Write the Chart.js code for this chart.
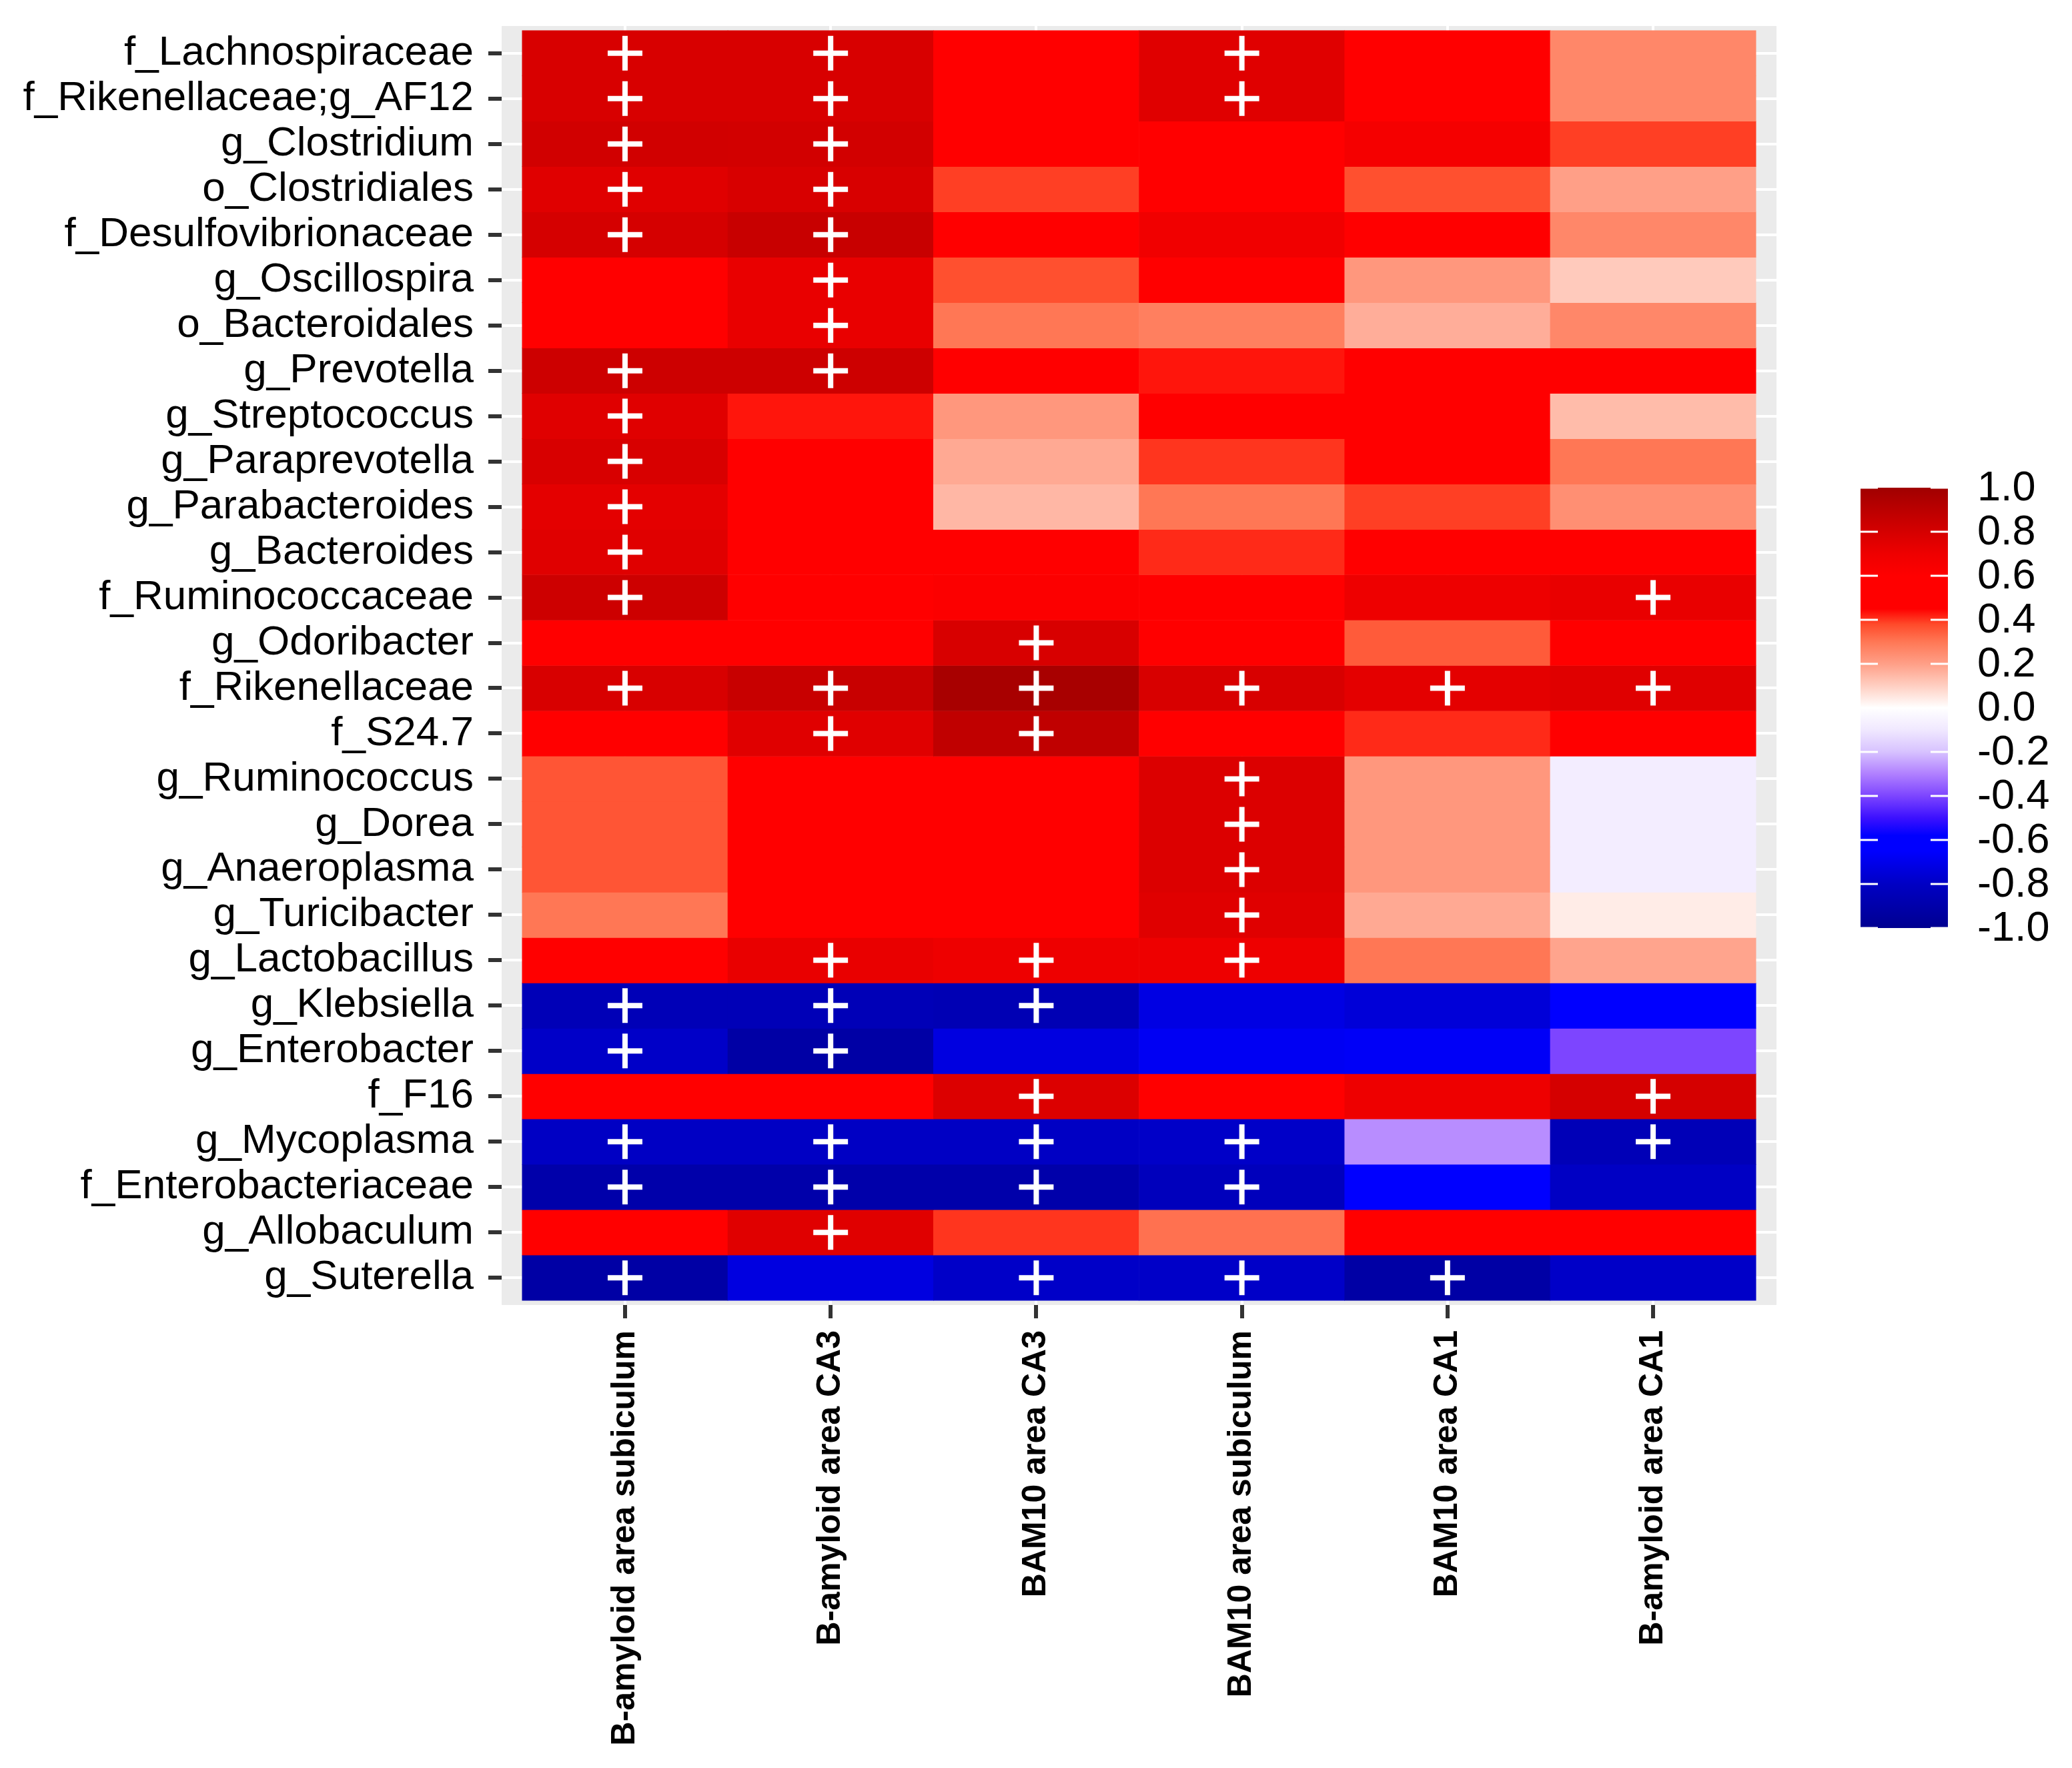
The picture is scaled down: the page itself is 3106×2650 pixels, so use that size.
<!DOCTYPE html>
<html>
<head>
<meta charset="utf-8">
<script src="https://cdn.jsdelivr.net/npm/chart.js@4.4.0/dist/chart.umd.min.js"></script>
<style>
  html, body { margin: 0; padding: 0; background: #fff; }
</style>
</head>
<body>
<canvas id="heat" width="3106" height="2650"></canvas>
<script>
// rows of the heatmap, top to bottom
const taxa = [
  'f_Lachnospiraceae', 'f_Rikenellaceae;g_AF12', 'g_Clostridium', 'o_Clostridiales',
  'f_Desulfovibrionaceae', 'g_Oscillospira', 'o_Bacteroidales', 'g_Prevotella',
  'g_Streptococcus', 'g_Paraprevotella', 'g_Parabacteroides', 'g_Bacteroides',
  'f_Ruminococcaceae', 'g_Odoribacter', 'f_Rikenellaceae', 'f_S24.7',
  'g_Ruminococcus', 'g_Dorea', 'g_Anaeroplasma', 'g_Turicibacter',
  'g_Lactobacillus', 'g_Klebsiella', 'g_Enterobacter', 'f_F16',
  'g_Mycoplasma', 'f_Enterobacteriaceae', 'g_Allobaculum', 'g_Suterella'
];

// columns, left to right
const regions = [
  'B-amyloid area subiculum', 'B-amyloid area CA3', 'BAM10 area CA3',
  'BAM10 area subiculum', 'BAM10 area CA1', 'B-amyloid area CA1'
];

// correlation per taxon (one row per taxon, one value per region)
const corr = [
  [0.785, 0.785, 0.55, 0.755, 0.55, 0.26],
  [0.785, 0.785, 0.55, 0.755, 0.55, 0.26],
  [0.815, 0.81, 0.55, 0.55, 0.66, 0.39],
  [0.755, 0.785, 0.39, 0.55, 0.37, 0.20],
  [0.80, 0.85, 0.55, 0.68, 0.55, 0.26],
  [0.55, 0.72, 0.37, 0.55, 0.22, 0.11],
  [0.55, 0.72, 0.30, 0.28, 0.17, 0.26],
  [0.83, 0.83, 0.55, 0.43, 0.55, 0.55],
  [0.755, 0.43, 0.22, 0.55, 0.55, 0.14],
  [0.785, 0.55, 0.18, 0.40, 0.55, 0.30],
  [0.74, 0.55, 0.15, 0.30, 0.39, 0.24],
  [0.755, 0.55, 0.55, 0.41, 0.55, 0.55],
  [0.83, 0.55, 0.62, 0.55, 0.70, 0.72],
  [0.55, 0.55, 0.785, 0.55, 0.35, 0.55],
  [0.785, 0.85, 0.97, 0.785, 0.74, 0.755],
  [0.55, 0.755, 0.88, 0.55, 0.41, 0.55],
  [0.36, 0.55, 0.55, 0.77, 0.22, -0.08],
  [0.36, 0.55, 0.55, 0.77, 0.22, -0.08],
  [0.36, 0.55, 0.55, 0.77, 0.22, -0.08],
  [0.30, 0.55, 0.55, 0.755, 0.18, 0.04],
  [0.55, 0.72, 0.70, 0.70, 0.30, 0.19],
  [-0.85, -0.85, -0.86, -0.72, -0.75, -0.62],
  [-0.79, -0.92, -0.73, -0.68, -0.67, -0.40],
  [0.55, 0.55, 0.77, 0.55, 0.70, 0.80],
  [-0.80, -0.80, -0.80, -0.79, -0.28, -0.85],
  [-0.90, -0.90, -0.90, -0.83, -0.62, -0.80],
  [0.55, 0.755, 0.40, 0.31, 0.55, 0.55],
  [-0.92, -0.73, -0.79, -0.79, -0.92, -0.79]
];

// significant cells (+): region indexes per taxon
const signif = [
  [0, 1, 3], [0, 1, 3], [0, 1], [0, 1], [0, 1], [1], [1], [0, 1],
  [0], [0], [0], [0], [0, 5], [2], [0, 1, 2, 3, 4, 5], [1, 2],
  [3], [3], [3], [3], [1, 2, 3], [0, 1, 2], [0, 1], [2, 5],
  [0, 1, 2, 3, 5], [0, 1, 2, 3], [1], [0, 2, 3, 4]
];

const legendTicks = [1.0, 0.8, 0.6, 0.4, 0.2, 0.0, -0.2, -0.4, -0.6, -0.8, -1.0];

// colour scale, value -> colour
const colourStops = [
  [-1.0, '#000090'], [-0.8, '#0000c4'], [-0.65, '#0000ff'], [-0.58, '#0000ff'],
  [-0.5, '#3c10ff'], [-0.4, '#7d45ff'], [-0.3, '#b080ff'], [-0.2, '#d7c2ff'],
  [-0.1, '#f0e8ff'], [0.0, '#ffffff'], [0.1, '#ffcfc2'], [0.2, '#ff9f87'],
  [0.3, '#ff7755'], [0.38, '#ff4a2a'], [0.45, '#ff0000'], [0.6, '#ff0000'],
  [0.7, '#ee0000'], [0.85, '#c80000'], [1.0, '#a00000']
];

function hexRgb(h) {
  return [1, 3, 5].map(i => parseInt(h.substr(i, 2), 16));
}

function colourFor(v) {
  if (v <= colourStops[0][0]) return colourStops[0][1];
  for (let i = 1; i < colourStops.length; i++) {
    const [v1, c1] = colourStops[i];
    if (v <= v1) {
      const [v0, c0] = colourStops[i - 1];
      const t = (v - v0) / (v1 - v0);
      const a = hexRgb(c0), b = hexRgb(c1);
      const rgb = a.map((x, k) => Math.round(x + (b[k] - x) * t));
      return `rgb(${rgb.join(',')})`;
    }
  }
  return colourStops[colourStops.length - 1][1];
}

const cellSets = taxa.map((t, i) => ({
  type: 'bar',
  label: t,
  data: regions.map((r, j) => ({ x: j + 0.5, y: [i, i + 1] })),
  backgroundColor: corr[i].map(colourFor),
  borderWidth: 0,
  grouped: false,
  barPercentage: 1,
  categoryPercentage: 1,
  order: 1
}));

const plusPoints = [];
signif.forEach((cols, i) => cols.forEach(j => plusPoints.push({ x: j + 0.5, y: i + 0.5 })));

const plusSet = {
  type: 'line',
  label: 'significant',
  data: plusPoints,
  showLine: false,
  pointStyle: 'cross',
  pointRadius: 26,
  pointBorderWidth: 8,
  pointBorderColor: '#ffffff',
  pointBackgroundColor: '#ffffff',
  order: 0
};

// grey ggplot-like panel behind the cells
const panelBg = {
  id: 'panelBg',
  beforeDraw(chart) {
    const { ctx, chartArea: a } = chart;
    ctx.save();
    ctx.fillStyle = '#ebebeb';
    ctx.fillRect(a.left, a.top, a.right - a.left, a.bottom - a.top);
    ctx.restore();
  }
};

// colour bar legend on the right
const colourBar = {
  id: 'colourBar',
  afterDraw(chart) {
    const ctx = chart.ctx;
    const x0 = 2789, w = 131, top = 731, h = 660;
    const yOf = v => top + (1 - v) / 2 * h;
    ctx.save();
    const g = ctx.createLinearGradient(0, top, 0, top + h);
    colourStops.forEach(([v, c]) => g.addColorStop((1 - v) / 2, c));
    ctx.fillStyle = g;
    ctx.fillRect(x0, top, w, h);
    ctx.strokeStyle = '#ffffff';
    ctx.lineWidth = 3;
    ctx.fillStyle = '#000000';
    ctx.font = '63px "Liberation Sans", Arial, sans-serif';
    ctx.textAlign = 'left';
    ctx.textBaseline = 'middle';
    legendTicks.forEach(v => {
      const y = yOf(v);
      ctx.beginPath();
      ctx.moveTo(x0, y); ctx.lineTo(x0 + 26, y);
      ctx.moveTo(x0 + w - 26, y); ctx.lineTo(x0 + w, y);
      ctx.stroke();
      ctx.fillText(v.toFixed(1), 2964, y + 2);
    });
    ctx.restore();
  }
};

const gridOpts = {
  color: '#ffffff',
  lineWidth: 4,
  offset: false,
  drawTicks: true,
  tickLength: 20,
  tickWidth: 6,
  tickColor: '#333333'
};

new Chart(document.getElementById('heat'), {
  type: 'bar',
  data: { datasets: [plusSet, ...cellSets] },
  plugins: [panelBg, colourBar],
  options: {
    responsive: false,
    devicePixelRatio: 1,
    animation: false,
    events: [],
    layout: { padding: { top: 39, right: 443, left: 0, bottom: 0 } },
    plugins: { legend: { display: false }, tooltip: { enabled: false } },
    scales: {
      x: {
        type: 'linear',
        min: -0.1,
        max: 6.1,
        offset: false,
        grid: gridOpts,
        border: { display: false },
        afterBuildTicks: s => { s.ticks = regions.map((r, j) => ({ value: j + 0.5 })); },
        afterFit: s => { s.height = 694; s.paddingLeft = 0; s.paddingRight = 0; },
        ticks: {
          autoSkip: false,
          maxRotation: 90,
          minRotation: 90,
          padding: 18,
          color: '#000000',
          font: { family: '"Liberation Sans", Arial, sans-serif', size: 50, weight: 'bold' },
          callback: (v, i) => regions[i]
        }
      },
      y: {
        type: 'linear',
        reverse: true,
        min: -0.1,
        max: 28.1,
        offset: false,
        grid: gridOpts,
        border: { display: false },
        afterBuildTicks: s => { s.ticks = taxa.map((t, i) => ({ value: i + 0.5 })); },
        afterFit: s => { s.width = 752; s.paddingTop = 0; s.paddingBottom = 0; },
        ticks: {
          autoSkip: false,
          padding: 22,
          color: '#000000',
          font: { family: '"Liberation Sans", Arial, sans-serif', size: 62 },
          callback: (v, i) => taxa[i]
        }
      }
    }
  }
});
</script>
</body>
</html>
